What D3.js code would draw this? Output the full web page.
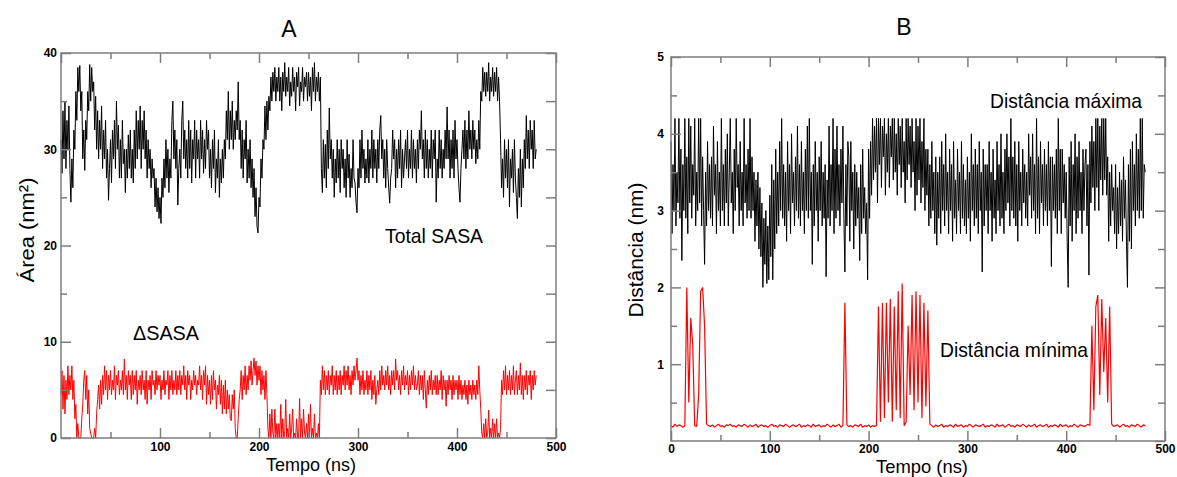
<!DOCTYPE html>
<html>
<head>
<meta charset="utf-8">
<script src="https://cdn.jsdelivr.net/npm/d3@7/dist/d3.min.js"></script>
<style>
	body	{ margin:0; background:#fff; }
	svg text	{ font-family:"Liberation Sans", Arial, sans-serif; }
</style>
</head>
<body>
<div id="chart"></div>
<script>
var	xMajor	= [0, 100, 200, 300, 400, 500],
	xMinor	= [50, 150, 250, 350, 450],
	yMajorA	= [0, 10, 20, 30, 40],
	yMinorA	= [5, 15, 25, 35],
	yMajorB	= [0, 1, 2, 3, 4, 5],
	yMinorB	= [0.5, 1.5, 2.5, 3.5, 4.5];

// A : SASA (nm2), one value per ns
var	sasaTotal = [
	31, 27.5, 34, 29, 35, 28, 33, 30, 34.5, 28,
	24.5, 29, 26, 32, 30, 36, 33, 38.5, 36, 38.7,
	34, 36, 29, 32, 27.8, 33, 31, 36, 34, 38.8,
	35, 38.5, 36, 37, 32, 35.5, 30, 34, 29, 33,
	30, 34.5, 28, 32, 29, 33, 27, 30, 24.7, 28,
	31, 26.5, 32, 29, 33, 28, 35, 30, 32.5, 27,
	31, 27, 33, 28.5, 30, 25.5, 30, 27, 31.5, 28,
	32, 27, 30, 26.5, 32, 28, 34, 29, 33, 30,
	34.5, 28, 33, 30, 34, 29, 32, 27, 31, 28,
	30, 26, 29, 27, 28, 24, 27, 23.5, 26, 22.8,
	25, 22.3, 27, 25, 29, 26, 31, 27, 30, 25.5,
	29, 27, 33, 35, 29, 32, 28, 31, 24.2, 28,
	30, 27, 33, 35, 29, 32, 28, 31, 27, 33,
	28, 32, 26.5, 31, 29, 33, 27, 32, 29, 31,
	27, 33, 29, 32, 27.5, 31, 28, 33, 30, 32,
	27, 30, 26, 31, 28, 32, 25.5, 29, 27, 31,
	25, 29, 26.5, 30, 27, 31, 29, 34, 31, 36,
	30, 34, 31, 35, 30, 33, 31, 34, 32, 37,
	31, 33, 28, 32, 27, 31, 29, 33, 26.5, 30,
	27, 31, 26, 29, 25, 28, 23, 26, 22, 21.3,
	25, 24, 29, 27, 31, 30, 34.5, 31, 35, 32,
	35.5, 34, 37.5, 35, 38, 36, 38.5, 35, 37.5, 36,
	38.5, 35, 37.5, 34, 38, 36, 39, 35.5, 37.5, 36,
	38.5, 34.5, 37, 35.5, 38.5, 36, 37.5, 34, 38, 36.5,
	38.5, 34.5, 37, 36, 38.5, 35, 37.5, 36.5, 38, 35,
	38, 35.5, 37.5, 34, 38.5, 36, 39, 35, 37.5, 36,
	38, 35, 37.5, 28, 25.5, 31, 27, 30.5, 26, 32,
	28, 34.3, 29, 31, 27, 30, 25, 29, 26.5, 31,
	27, 30, 25.5, 31, 28, 30, 26, 29, 25, 31,
	27, 29.5, 25, 28, 26, 31, 27, 26.5, 24.5, 23.4,
	28, 26, 31, 27, 32, 28, 30, 26.5, 29, 27,
	31, 26.5, 30, 28, 32, 27, 31, 28, 30, 26.5,
	31, 28, 32, 33.5, 29, 31, 27, 30, 26, 31,
	28, 26, 24.4, 27, 28, 32, 29, 31, 26, 30,
	27, 31, 28, 32, 26, 30, 27, 29, 31, 28,
	32, 27, 30, 28, 32, 27, 31, 28, 30, 26.5,
	31, 28, 32, 30, 34, 29, 31, 27, 32, 28,
	31, 27, 30, 28, 32, 27, 31, 29, 32, 24.5,
	29, 27, 32, 28, 31, 27, 30, 28, 32, 29,
	34.4, 29, 32, 27, 31, 28, 32, 27, 33, 29,
	31, 28, 26, 24.5, 28, 30, 32, 29, 33, 28,
	32, 29, 34, 30, 32, 29, 33, 30, 32, 28.5,
	31, 29, 33, 30, 36, 35, 38.5, 36, 38, 35.5,
	38, 36, 39, 35, 37.5, 36, 38.5, 35.5, 38, 36,
	38.5, 35, 37.5, 35, 31, 26, 29, 25, 31, 27,
	30, 26, 31, 24, 29, 27, 30, 25.5, 31, 27,
	25, 22.8, 28, 25, 30, 24, 29, 26, 31, 28,
	33.5, 29, 32, 28, 33, 30, 32, 28, 33, 29,
	30];
var	sasaDelta = [
	4.5, 7, 3, 6.5, 2.5, 6, 4, 7.5, 4.5, 6.5,
	5, 7.5, 4, 6, 2, 3.5, 0, 1.5, 0, 0,
	0, 2, 3.5, 6, 7, 4, 6.5, 2.5, 5, 1,
	0.5, 0, 0, 0, 1, 0, 2.5, 4, 5.5, 3,
	6, 3.5, 6.5, 4.5, 7.5, 5, 7, 4, 6.5, 5,
	7, 4.5, 6, 5, 7.5, 4, 6.5, 5.5, 7, 4.5,
	6, 5, 7, 4.5, 8.2, 5, 6.5, 4, 7, 5.5,
	6.5, 4, 7, 4.5, 6.5, 5, 7, 3.5, 6, 5,
	6.5, 4.5, 7, 5, 6, 4, 7, 3.5, 6, 5,
	6.5, 4, 7, 5.5, 6, 4.5, 7, 5, 6.5, 5.5,
	6.5, 4, 6, 5, 7, 4.5, 6, 5.5, 7, 4,
	6.5, 5, 7, 4.5, 6, 5, 7, 4.5, 6.5, 5,
	7, 4.5, 6.5, 5.5, 7.5, 5, 6.5, 4, 7, 5.5,
	6.5, 4, 6, 5, 7, 5.5, 6.5, 4.5, 6, 5.5,
	7.5, 5, 6.5, 4, 7, 5.5, 7.5, 3.5, 6.5, 4.5,
	6, 3.5, 6.5, 4, 7, 5, 6, 3, 5.5, 4.5,
	6.5, 3.5, 6, 2.5, 5.5, 3, 6, 2.5, 5, 3,
	4.5, 2, 1.8, 4.5, 3, 5, 1, 0, 0, 2,
	4, 5, 7, 4, 6.5, 5, 7.5, 4.5, 6.5, 5,
	7.5, 6, 8, 5.5, 7, 8.3, 6.5, 8, 5.5, 7.5,
	6, 7.5, 4.5, 7, 5, 6.5, 4, 7, 4.5, 1,
	0, 2.5, 0, 3, 0.5, 0, 3, 0, 1.5, 0,
	1.5, 0, 3.5, 0, 2, 0, 0.5, 4, 0, 1,
	0, 2.5, 0, 1, 3, 0, 0.5, 0, 2, 0,
	0, 4.1, 0, 2, 0, 3, 0.5, 0, 1.5, 0,
	2.5, 0, 3.5, 0, 1, 0, 2.5, 0, 0.5, 0,
	1.5, 0, 6, 4.5, 7.5, 5, 7, 4.5, 6.5, 5,
	7, 4.5, 6.5, 5.5, 7.5, 4.5, 6.5, 5, 7, 4.5,
	6.5, 5, 7, 4.5, 6.5, 5.5, 7.5, 5, 7, 5.5,
	7.5, 5, 6.5, 4.5, 7, 5.5, 7.5, 6, 7, 8.3,
	6, 7, 4.5, 6.5, 5, 7, 4.5, 6, 5, 7,
	4.5, 6.5, 5, 7, 4, 6, 4.5, 6.5, 3.5, 5,
	6, 4.5, 7, 5, 7.5, 5.5, 6.5, 5, 7, 5.5,
	7.5, 5, 6.5, 4.5, 7, 5.5, 7, 5, 8.2, 6,
	7, 5, 6.5, 4.5, 7, 5.5, 7.5, 5, 6.5, 5.5,
	7, 4.5, 6.5, 5, 7, 5.5, 7.5, 5, 6.5, 5,
	5.5, 7, 4.5, 6.5, 5, 6.5, 4, 7, 5, 3.1,
	6, 4.5, 6.5, 5, 7, 4.5, 6, 5, 6.5, 4.5,
	6.5, 4.5, 6, 5, 7, 4, 6.5, 5, 6, 3.3,
	6, 4.5, 6.5, 5, 6, 4, 6.5, 4.5, 6, 5,
	6, 4, 6.5, 4.5, 6, 4, 5.5, 4.5, 6, 4,
	5.5, 3.5, 6, 4.5, 5.5, 4, 6, 4.5, 5.5, 4,
	6, 4.5, 7.5, 5, 3, 0.5, 0, 1.5, 0, 2,
	0, 0.5, 2.9, 0, 1, 0, 2, 0, 1.5, 0,
	2, 0, 0.5, 0, 1, 6, 4.5, 7, 5, 7.5,
	4.5, 6.5, 5, 7, 4.5, 6.5, 5, 7.5, 4.5, 6,
	7, 4.5, 6.5, 5, 7.8, 4.5, 6.5, 4, 6.5, 5,
	7, 4.5, 6.5, 5.5, 7, 4, 6.5, 5, 7, 5.5,
	6.5];

// B : distances (nm); maximum one value per ns, minimum every 2 ns
var	distMax = [
	3.9, 2.7, 3.6, 3.0, 4.2, 2.8, 3.5, 3.1, 4.2, 2.9,
	3.8, 2.35, 3.6, 3.0, 4.2, 2.9, 3.7, 2.7, 4.2, 3.1,
	4.1, 2.9, 3.6, 3.2, 4.2, 2.8, 3.5, 3.0, 4.2, 3.1,
	4.2, 2.8, 3.7, 3.0, 2.3, 3.5, 2.8, 3.9, 3.0, 3.6,
	2.9, 3.7, 2.8, 4.1, 3.2, 3.6, 2.7, 3.9, 3.0, 3.5,
	2.8, 4.2, 3.0, 3.6, 2.8, 3.8, 3.1, 4.0, 2.8, 3.5,
	4.2, 3.1, 3.5, 2.7, 3.8, 3.0, 4.2, 3.3, 3.6, 2.8,
	3.9, 3.0, 3.5, 2.8, 4.2, 3.1, 3.6, 2.9, 3.8, 3.0,
	4.2, 2.9, 3.7, 3.0, 3.5, 2.6, 3.4, 2.8, 3.5, 2.5,
	3.3, 2.4, 3.1, 2.0, 2.9, 2.3, 3.0, 2.05, 2.8, 2.1,
	3.2, 2.4, 3.6, 2.1, 3.4, 2.5, 3.8, 2.7, 3.5, 2.8,
	3.9, 3.0, 4.2, 2.9, 3.6, 2.8, 3.5, 2.6, 3.9, 3.0,
	3.6, 2.7, 4.0, 3.1, 3.5, 2.8, 3.7, 3.0, 4.1, 2.9,
	3.6, 2.8, 3.9, 3.0, 3.5, 2.7, 3.8, 3.0, 4.1, 2.9,
	4.2, 3.0, 3.5, 2.3, 3.6, 2.8, 3.9, 3.0, 3.5, 2.6,
	3.7, 3.0, 3.9, 2.8, 3.5, 2.9, 3.6, 2.14, 3.4, 2.9,
	4.1, 2.8, 3.6, 3.0, 4.2, 2.7, 3.8, 2.9, 4.1, 3.0,
	3.6, 2.8, 3.8, 3.1, 4.1, 2.9, 2.2, 3.6, 2.8, 3.9,
	3.7, 2.6, 3.9, 3.0, 3.5, 2.5, 3.6, 2.8, 3.5, 2.9,
	3.3, 2.35, 3.6, 2.7, 3.8, 2.9, 3.3, 2.7, 3.1, 2.1,
	3.8, 2.9, 3.9, 3.2, 4.2, 3.4, 4.1, 3.5, 4.2, 3.1,
	4.2, 3.6, 4.2, 3.3, 4.1, 3.7, 4.2, 3.2, 4.0, 3.5,
	4.2, 3.3, 4.1, 3.7, 4.2, 3.4, 4.2, 3.5, 4.0, 3.2,
	4.2, 3.6, 4.1, 3.3, 4.2, 3.5, 3.9, 3.1, 4.2, 3.4,
	4.2, 3.6, 4.1, 3.3, 4.2, 3.5, 3.9, 3.0, 4.2, 3.2,
	4.1, 3.4, 4.2, 3.1, 3.9, 3.3, 4.2, 3.0, 3.8, 3.2,
	3.8, 2.8, 3.6, 2.9, 3.9, 3.0, 3.5, 2.7, 3.7, 2.55,
	3.5, 2.9, 3.7, 2.7, 3.9, 3.0, 3.6, 2.8, 4.0, 3.0,
	3.5, 2.7, 3.8, 3.0, 3.6, 2.6, 3.9, 2.9, 3.4, 2.7,
	3.8, 3.0, 3.5, 2.7, 3.9, 2.9, 3.6, 2.8, 3.4, 2.7,
	3.7, 2.9, 3.5, 2.6, 4.0, 3.0, 3.6, 2.8, 3.8, 2.9,
	3.6, 2.7, 3.9, 3.0, 3.5, 2.2, 3.8, 2.8, 3.6, 3.0,
	3.6, 2.7, 3.9, 3.0, 3.5, 2.6, 3.8, 2.9, 3.4, 2.7,
	3.9, 3.0, 3.6, 2.8, 4.0, 2.9, 3.5, 2.7, 3.8, 3.0,
	4.0, 3.1, 3.7, 2.8, 4.2, 3.0, 3.7, 2.9, 3.9, 2.8,
	3.6, 2.6, 3.9, 3.0, 3.5, 2.8, 3.8, 3.1, 3.6, 2.9,
	3.5, 2.8, 4.0, 3.2, 3.7, 2.9, 4.0, 3.0, 3.6, 2.7,
	4.2, 2.9, 3.7, 2.7, 3.9, 3.1, 3.6, 2.8, 3.8, 3.0,
	3.6, 2.8, 3.9, 3.0, 3.7, 2.27, 3.7, 3.0, 3.6, 2.9,
	3.8, 2.7, 4.2, 3.0, 3.8, 2.7, 3.8, 3.1, 3.6, 2.9,
	3.5, 2.6, 2.0, 3.7, 2.8, 3.9, 2.6, 3.6, 3.0, 4.0,
	2.7, 3.7, 2.9, 3.9, 3.0, 3.5, 2.7, 3.8, 3.0, 3.6,
	3.8, 2.8, 3.6, 2.16, 3.9, 3.1, 4.1, 3.3, 3.9, 3.0,
	4.2, 3.3, 4.2, 3.0, 4.1, 3.4, 4.2, 3.2, 4.2, 3.4,
	4.2, 3.2, 3.7, 2.6, 3.5, 2.8, 3.6, 3.0, 3.3, 2.7,
	3.6, 2.5, 3.3, 2.7, 3.5, 2.8, 3.4, 2.6, 3.7, 2.9,
	3.4, 2.6, 2.0, 3.6, 2.6, 3.8, 2.5, 3.9, 3.0, 3.6,
	2.8, 4.0, 3.0, 3.8, 2.9, 4.2, 3.0, 4.2, 2.9, 3.6,
	3.5];
var	distMin = [
	0.2, 0.18, 0.22, 0.19, 0.21, 0.2, 0.18, 0.2, 2.0, 0.5,
	1.6, 1.25, 0.2, 0.19, 0.6, 1.95, 2.0, 1.5, 0.22, 0.2,
	0.19, 0.21, 0.18, 0.2, 0.22, 0.19, 0.2, 0.18, 0.21, 0.2,
	0.22, 0.19, 0.2, 0.18, 0.21, 0.2, 0.19, 0.22, 0.2, 0.18,
	0.21, 0.19, 0.2, 0.22, 0.18, 0.2, 0.21, 0.19, 0.2, 0.18,
	0.2, 0.22, 0.19, 0.2, 0.18, 0.21, 0.2, 0.19, 0.22, 0.2,
	0.18, 0.2, 0.21, 0.19, 0.2, 0.22, 0.18, 0.2, 0.19, 0.21,
	0.2, 0.18, 0.22, 0.19, 0.2, 0.21, 0.18, 0.2, 0.19, 0.22,
	0.2, 0.18, 0.21, 0.19, 0.2, 0.22, 0.18, 0.2, 1.8, 0.21,
	0.19, 0.2, 0.18, 0.21, 0.2, 0.19, 0.22, 0.18, 0.2, 0.19,
	0.21, 0.18, 0.2, 0.19, 0.2, 1.75, 0.25, 1.8, 0.3, 1.8,
	0.5, 1.85, 0.25, 1.75, 0.4, 1.95, 0.3, 2.05, 0.2, 0.25,
	1.5, 0.6, 1.9, 0.4, 1.95, 0.5, 1.9, 0.3, 1.8, 0.45,
	1.7, 0.22, 0.2, 0.18, 0.21, 0.19, 0.2, 0.22, 0.18, 0.2,
	0.19, 0.21, 0.2, 0.18, 0.22, 0.19, 0.2, 0.21, 0.18, 0.2,
	0.19, 0.22, 0.2, 0.18, 0.21, 0.2, 0.19, 0.2, 0.22, 0.18,
	0.2, 0.19, 0.21, 0.2, 0.18, 0.22, 0.19, 0.2, 0.21, 0.18,
	0.2, 0.22, 0.19, 0.2, 0.18, 0.21, 0.2, 0.19, 0.22, 0.2,
	0.18, 0.21, 0.19, 0.2, 0.22, 0.18, 0.2, 0.21, 0.19, 0.2,
	0.22, 0.18, 0.2, 0.19, 0.21, 0.2, 0.18, 0.22, 0.19, 0.2,
	0.21, 0.18, 0.2, 0.19, 0.22, 0.2, 0.18, 0.21, 0.2, 0.19,
	0.2, 0.22, 0.2, 1.5, 0.4, 1.75, 1.9, 0.6, 1.85, 0.9,
	1.6, 0.5, 1.75, 0.22, 0.19, 0.2, 0.21, 0.18, 0.2, 0.22,
	0.19, 0.2, 0.18, 0.21, 0.2, 0.19, 0.22, 0.2, 0.18, 0.21,
	0.2];

var	W	= 1177, H = 477,
	frameColor	= "#7d7d7d",
	fmt	= d3.format("~g");

var	svg	= d3.select("#chart").append("svg").attr("width", W).attr("height", H);

function panel(cfg) {
	var	g	= svg.append("g"),
		x	= d3.scaleLinear().domain([0, 500]).range([cfg.left, cfg.right]),
		y	= d3.scaleLinear().domain(cfg.yDomain).range([cfg.bottom, cfg.top]);

	// series
	cfg.series.forEach(function(s) {
		var line = d3.line()
			.x(function(d, i) { return x(i*s.step); })
			.y(function(d) { return y(d); });
		g.append("path").datum(s.values)
			.attr("fill", "none").attr("stroke", s.color)
			.attr("stroke-width", s.width).attr("stroke-linejoin", "bevel")
			.attr("d", line);
	});

	// inward ticks, all four sides
	function ticks(axis, tr, vals, size) {
		var a = g.append("g").attr("transform", tr)
			.call(axis.tickValues(vals).tickSizeInner(-size).tickSizeOuter(0).tickFormat(""));
		a.select(".domain").remove();
		a.selectAll(".tick line").attr("stroke", frameColor).attr("stroke-width", 1.5);
		return a;
	}
	ticks(d3.axisTop(x), "translate(0,"+cfg.top+")", xMajor, 10);
	ticks(d3.axisTop(x), "translate(0,"+cfg.top+")", xMinor, 6);
	ticks(d3.axisBottom(x), "translate(0,"+cfg.bottom+")", xMinor, 6);
	ticks(d3.axisRight(y), "translate("+cfg.right+",0)", cfg.yMajor, 10);
	ticks(d3.axisRight(y), "translate("+cfg.right+",0)", cfg.yMinor, cfg.rightMinor);
	ticks(d3.axisLeft(y), "translate("+cfg.left+",0)", cfg.yMinor, 6);

	var xa = g.append("g").attr("transform", "translate(0,"+cfg.bottom+")")
		.call(d3.axisBottom(x).tickValues(cfg.xLabels).tickFormat(fmt)
			.tickSizeInner(-10).tickSizeOuter(0).tickPadding(cfg.xPad));
	var ya = g.append("g").attr("transform", "translate("+cfg.left+",0)")
		.call(d3.axisLeft(y).tickValues(cfg.yLabels).tickFormat(fmt)
			.tickSizeInner(-10).tickSizeOuter(0).tickPadding(cfg.yPad));
	[xa, ya].forEach(function(a) {
		a.select(".domain").remove();
		a.selectAll(".tick line").attr("stroke", frameColor).attr("stroke-width", 1.5);
		a.selectAll(".tick text").attr("fill", "#000").style("font-size", "12px")
			.style("font-weight", "bold").style("font-family", "'Liberation Sans', Arial, sans-serif");
	});

	g.append("rect")
		.attr("x", cfg.left).attr("y", cfg.top)
		.attr("width", cfg.right-cfg.left).attr("height", cfg.bottom-cfg.top)
		.attr("fill", "none").attr("stroke", frameColor).attr("stroke-width", 1.5);

	// texts
	g.append("text").attr("x", cfg.title[1]).attr("y", cfg.title[2])
		.attr("text-anchor", "middle").style("font-size", "23px").text(cfg.title[0]);
	g.append("text").attr("x", cfg.xTitle[1]).attr("y", cfg.xTitle[2])
		.attr("text-anchor", "middle").style("font-size", cfg.xTitle[4]+"px")
		.attr("textLength", cfg.xTitle[3]).attr("lengthAdjust", "spacingAndGlyphs")
		.text(cfg.xTitle[0]);
	g.append("text").attr("transform", "translate("+cfg.yTitle[1]+","+cfg.yTitle[2]+") rotate(-90)")
		.attr("text-anchor", "middle").style("font-size", "21px")
		.attr("textLength", cfg.yTitle[3]).attr("lengthAdjust", "spacingAndGlyphs")
		.text(cfg.yTitle[0]);
	cfg.notes.forEach(function(n) {
		g.append("text").attr("x", n[1]).attr("y", n[2])
			.style("font-size", n[4]+"px")
			.attr("textLength", n[3]).attr("lengthAdjust", "spacingAndGlyphs")
			.text(n[0]);
	});
}

panel({
	left: 61, right: 556, top: 53, bottom: 438,
	yDomain: [0, 40], yMajor: yMajorA, yMinor: yMinorA, rightMinor: 10,
	xLabels: [100, 200, 300, 400, 500], yLabels: yMajorA, xPad: 4, yPad: 4,
	series: [{values: sasaTotal, step: 1, color: "#000", width: 1}, {values: sasaDelta, step: 1, color: "#ff0000", width: 1}],
	title: ["A", 289, 37],
	xTitle: ["Tempo (ns)", 311, 471, 90, 19],
	yTitle: ["Área (nm²)", 34, 230, 105],
	notes: [["Total SASA", 385, 243, 98, 21], ["ΔSASA", 133, 340, 66, 21]]
});
panel({
	left: 671, right: 1165, top: 57, bottom: 441,
	yDomain: [0, 5], yMajor: yMajorB, yMinor: yMinorB, rightMinor: 7,
	xLabels: xMajor, yLabels: [1, 2, 3, 4, 5], xPad: 3, yPad: 7,
	series: [{values: distMax, step: 1, color: "#000", width: 1}, {values: distMin, step: 2, color: "#ff0000", width: 1.2}],
	title: ["B", 904, 35],
	xTitle: ["Tempo (ns)", 922, 473, 92, 18],
	yTitle: ["Distância (nm)", 643, 250, 135],
	notes: [["Distância máxima", 990, 108, 152, 21], ["Distância mínima", 940, 357, 148, 21]]
});
</script>
</body>
</html>
